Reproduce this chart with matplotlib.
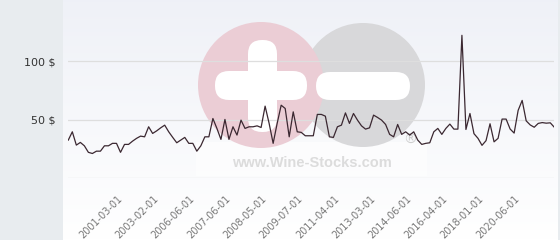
import numpy as np
import matplotlib
matplotlib.use("Agg")
import matplotlib.pyplot as plt
from matplotlib.patches import Rectangle, Circle, FancyBboxPatch

# monthly-ish price points
prices = [
    32.5, 39.6, 28.2, 30.5, 27.6, 22.0, 21.0, 23.0, 23.0, 27.6,
    27.6, 29.7, 29.7, 22.0, 28.8, 28.8, 31.6, 34.0, 35.9, 35.3,
    43.9, 38.2, 40.4, 43.0, 45.3, 39.6, 34.8, 30.2, 32.5, 34.8,
    29.7, 29.7, 23.0, 27.6, 35.3, 35.3, 51.0, 42.5, 33.1, 50.2,
    33.1, 43.9, 36.8, 49.6, 42.5, 43.9, 43.9, 44.7, 43.3, 61.6,
    46.8, 29.7, 46.8, 62.4, 59.6, 35.3, 56.7, 39.6, 39.1, 36.2,
    36.2, 36.2, 54.5, 54.5, 53.0, 35.3, 34.8, 43.9, 45.3, 55.8,
    46.8, 55.3, 49.6, 44.7, 41.9, 43.0, 53.9, 51.9, 49.6, 45.9,
    37.4, 35.3, 45.9, 37.4, 39.6, 36.8, 39.6, 32.5, 28.8, 29.7,
    30.2, 39.6, 42.5, 37.4, 42.5, 46.2, 41.9, 41.9, 122.3, 41.6,
    55.3, 38.0, 34.0, 28.0, 32.0, 46.5, 31.0, 34.0, 50.5, 50.5,
    42.0, 38.5, 58.0, 66.5, 49.0, 45.5, 43.5, 46.8, 47.5, 47.0,
    47.3, 43.5,
]

tick_labels = ["2001-03-01", "2003-02-01", "2006-06-01", "2007-06-01",
               "2008-05-01", "2009-07-01", "2011-04-01", "2013-03-01",
               "2014-06-01", "2016-04-01", "2018-01-01", "2020-06-01"]
tick_index = [13, 22, 31, 40, 49, 58, 67, 76, 85, 94, 103, 112]

y_ticks = [0, 50, 100]
y_labels = ["", "50 $", "100 $"]

W, H = 560, 240
fig = plt.figure(figsize=(W / 100, H / 100), dpi=100)

# background layer in pixel coords
bg = fig.add_axes([0, 0, 1, 1], zorder=0)
bg.set_xlim(0, W)
bg.set_ylim(H, 0)
bg.axis("off")
bg.add_patch(Rectangle((0, 0), 63, H, color="#e8ecef", lw=0))
grad = np.linspace(0, 1, 100)[:, None]
top = np.array([0.937, 0.945, 0.969])
cols = top + (1 - top) * grad
bg.imshow(np.repeat(cols[:, None, :], 2, axis=1), extent=(63, 558, H, 0),
          aspect="auto", zorder=0)
bg.add_patch(Rectangle((558, 0), 2, H, color="#e8ecef", lw=0, zorder=1))

# watermark
bg.add_patch(Rectangle((196, 142), 231, 34, color="white", alpha=0.6, lw=0, zorder=1))
bg.add_patch(Circle((363, 85), 62, color="#d8d8da", lw=0, zorder=2))
bg.add_patch(Circle((261, 85), 63, color="#ebcdd5", lw=0, zorder=3))
bg.add_patch(FancyBboxPatch((248, 40), 29, 92, boxstyle="round,pad=0,rounding_size=14",
                            color="white", lw=0, zorder=4))
bg.add_patch(FancyBboxPatch((215, 71), 92, 29, boxstyle="round,pad=0,rounding_size=14",
                            color="white", lw=0, zorder=4))
bg.add_patch(FancyBboxPatch((316, 72), 94, 28, boxstyle="round,pad=0,rounding_size=14",
                            color="white", lw=0, zorder=4))
bg.text(312, 163, "www.Wine-Stocks.com", ha="center", va="center",
        fontsize=10.5, fontweight="bold", family="Liberation Sans",
        color="#dcdcdc", zorder=5)
bg.text(410, 140, "\u00ae", ha="center", va="center", fontsize=10,
        color="#cfcfcf", zorder=5)

# chart
ax = fig.add_axes([68.3 / W, (H - 178) / H, (554.3 - 68.3) / W, 175 / H], zorder=1)
ax.patch.set_alpha(0)
x = np.arange(len(prices))
ax.plot(x, prices, color="#3b2831", lw=0.9)
ax.set_xlim(0, len(prices) - 1)
ax.set_ylim(0, 150)
ax.set_yticks(y_ticks)
ax.set_yticklabels(y_labels, fontsize=8, color="#333333")
ax.set_xticks(tick_index)
ax.set_xticklabels(tick_labels, fontsize=7, color="#777777", rotation=45,
                   ha="right", va="center", rotation_mode="anchor")
ax.tick_params(axis="both", length=0)
ax.tick_params(axis="y", pad=9)
ax.tick_params(axis="x", pad=14)
ax.grid(axis="y", color="#dedede", lw=0.9)
ax.set_axisbelow(True)
for s in ax.spines.values():
    s.set_visible(False)

fig.savefig("out.png", dpi=100)
